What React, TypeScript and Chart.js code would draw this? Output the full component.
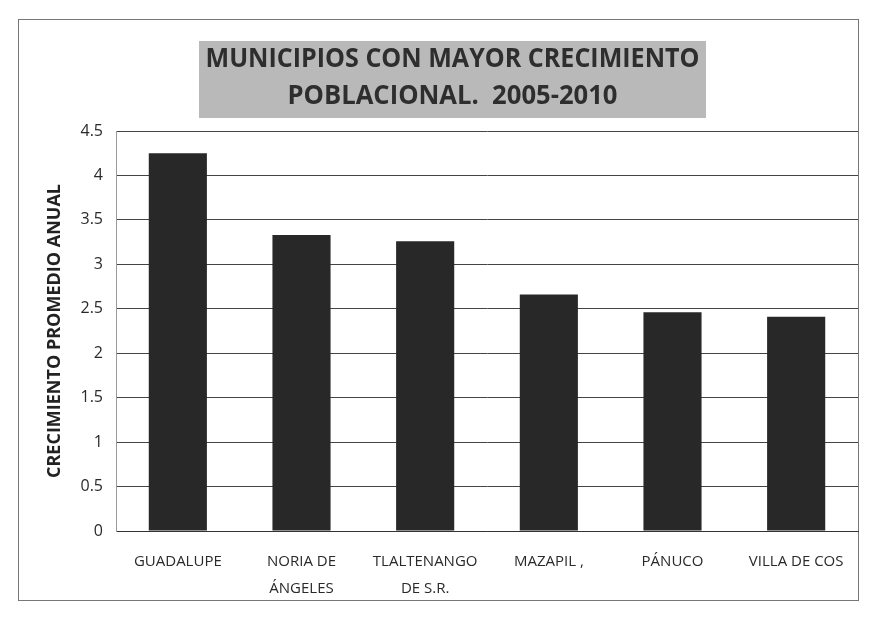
import React, { useEffect, useRef } from "react";
import { Chart, registerables } from "chart.js";

Chart.register(...registerables);

const categories: string[][] = [
  ["GUADALUPE"],
  ["NORIA DE", "ÁNGELES"],
  ["TLALTENANGO", "DE S.R."],
  ["MAZAPIL ,"],
  ["PÁNUCO"],
  ["VILLA DE COS"],
];
const growthValues: number[] = [4.25, 3.33, 3.26, 2.66, 2.46, 2.41];
const titleLines: string[] = ["MUNICIPIOS CON MAYOR CRECIMIENTO", "POBLACIONAL.  2005-2010"];
const yAxisTitle = "CRECIMIENTO PROMEDIO ANUAL";
const yMin = 0;
const yMax = 4.5;
const yStep = 0.5;

const framePlugin = {
  id: "frameAndTitle",
  beforeDraw(chart: any) {
    const ctx = chart.ctx;
    ctx.save();
    ctx.fillStyle = "#ffffff";
    ctx.fillRect(0, 0, chart.width, chart.height);
    ctx.strokeStyle = "#777777";
    ctx.lineWidth = 1;
    ctx.strokeRect(18.5, 19.5, 840, 581);
    const bx = 199, by = 41, bw = 507, bh = 77;
    ctx.fillStyle = "#b9b9b9";
    ctx.fillRect(bx, by, bw, bh);
    ctx.fillStyle = "#2e2e2e";
    ctx.textAlign = "center";
    ctx.textBaseline = "middle";
    ctx.font = "bold 26px 'Open Sans'";
    ctx.fillText(titleLines[0], bx + bw / 2, 60, 494);
    ctx.fillText(titleLines[1], bx + bw / 2, 97, 330);
    ctx.restore();
  },
};

export default function App() {
  const ref = useRef<HTMLCanvasElement | null>(null);
  useEffect(() => {
    if (!ref.current) return;
    const chart = new Chart(ref.current, {
      type: "bar",
      data: {
        labels: categories,
        datasets: [
          {
            data: growthValues,
            backgroundColor: "#282828",
            borderWidth: 0,
            barPercentage: 0.47,
            categoryPercentage: 1,
          },
        ],
      },
      options: {
        animation: false,
        responsive: false,
        layout: { padding: { left: 20, top: 131, right: 11, bottom: 20 } },
        plugins: {
          legend: { display: false },
          title: { display: false },
          tooltip: { enabled: false },
        },
        scales: {
          x: {
            grid: { display: false, drawTicks: false },
            border: { color: "#333333", width: 1 },
            ticks: {
              color: "#2a2a2a",
              padding: 18,
              font: { family: "'Open Sans'", size: 15, lineHeight: 1.75 },
              maxRotation: 0,
              autoSkip: false,
            },
            afterFit(scale: any) {
              scale.height = 70;
            },
          },
          y: {
            min: yMin,
            max: yMax,
            ticks: {
              stepSize: yStep,
              color: "#2a2a2a",
              padding: 13,
              font: { family: "'Open Sans'", size: 16 },
              callback: (v: any) => String(Number(v)),
            },
            grid: { color: "#444444", lineWidth: 1, drawTicks: false },
            border: { color: "#9a9a9a" },
            title: {
              display: true,
              text: yAxisTitle,
              color: "#222222",
              font: { family: "'Open Sans'", size: 18, weight: "bold" },
              padding: { top: 24, bottom: 0 },
            },
            afterFit(scale: any) {
              scale.width = 96;
            },
          },
        },
      },
      plugins: [framePlugin],
    });
    return () => chart.destroy();
  }, []);
  return (
    <div style={{ position: "fixed", left: 0, top: 0, width: 869, height: 621 }}>
      <canvas ref={ref} width={869} height={621} />
    </div>
  );
}
